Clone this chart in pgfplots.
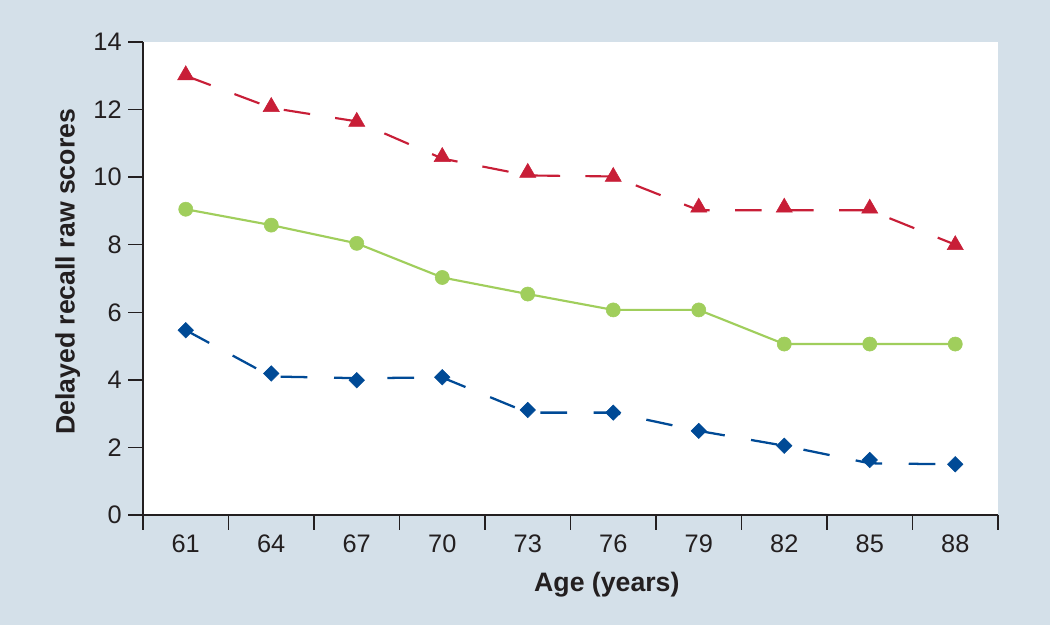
\documentclass[border=0pt]{standalone}
\usepackage{pgfplots}
\pgfplotsset{compat=1.18}
\usepackage{fontspec}
\setmainfont{Liberation Sans}
\definecolor{bgc}{RGB}{212,224,233}
\definecolor{txt}{RGB}{35,31,32}
\definecolor{cred}{RGB}{200,30,55}
\definecolor{cgreen}{RGB}{160,206,92}
\definecolor{cblue}{RGB}{0,74,150}
\begin{document}
\begin{tikzpicture}
\fill[bgc] (0,0) rectangle (787.5pt,468.75pt);
\begin{axis}[
  at={(107.25pt,82.5pt)}, anchor=south west,
  scale only axis, width=641.25pt, height=354.75pt,
  xmin=-0.5, xmax=9.5, ymin=0, ymax=14,
  axis x line*=bottom, axis y line*=left,
  axis line style={-, line width=1.1pt, color=txt},
  axis background/.style={fill=white},
  xtick={-0.5,0.5,...,9.5}, xticklabels={},
  extra x ticks={0,1,2,3,4,5,6,7,8,9},
  extra x tick labels={61,64,67,70,73,76,79,82,85,88},
  extra x tick style={tick style={draw=none}},
  ytick={0,2,...,14},
  tick align=outside,
  major tick length=11pt,
  tick style={line width=1.1pt, color=txt},
  /pgf/number format/assume math mode=true,
  ticklabel style={font=\fontsize{19}{22}\selectfont, color=txt},
  yticklabel style={xshift=-1.5pt},
  xlabel={Age (years)},
  ylabel={Delayed recall raw scores},
  xlabel style={at={(rel axis cs:0.5425,-0.162)}, anchor=base, font=\bfseries\fontsize{20}{23}\selectfont, color=txt},
  ylabel style={at={(rel axis cs:-0.0800,0.514)}, rotate=0, anchor=base, font=\bfseries\fontsize{20}{23}\selectfont, color=txt},
  clip=false,
]
% red series
\addplot[cred, line width=1.6pt, dash pattern=on 20pt off 19pt] coordinates {
 (0,13.0) (1,12.05) (2,11.65) (3,10.55) (4,10.05) (5,10.02) (6,9.02) (7,9.02) (8,9.02) (9,8.0)};
\addplot[only marks, mark=triangle*, mark size=7pt, color=cred] coordinates {
 (0,13.02) (1,12.08) (2,11.64) (3,10.6) (4,10.13) (5,10.01) (6,9.1) (7,9.1) (8,9.07) (9,7.99)};
% green series
\addplot[cgreen, line width=1.6pt] coordinates {
 (0,9.05) (1,8.58) (2,8.04) (3,7.03) (4,6.54) (5,6.07) (6,6.07) (7,5.06) (8,5.06) (9,5.06)};
\addplot[only marks, mark=*, mark size=5.3pt, color=cgreen] coordinates {
 (0,9.05) (1,8.58) (2,8.04) (3,7.03) (4,6.54) (5,6.07) (6,6.07) (7,5.06) (8,5.06) (9,5.06)};
% blue series
\addplot[cblue, line width=1.7pt, dash pattern=on 20pt off 20pt] coordinates {
 (0,5.47) (1,4.1) (2,4.05) (3,4.07) (4,3.03) (5,3.03) (6,2.49) (7,2.05) (8,1.53) (9,1.5)};
\addplot[only marks, mark=square*, mark size=4.1pt, mark options={rotate=45}, color=cblue] coordinates {
 (0,5.47) (1,4.19) (2,3.99) (3,4.08) (4,3.11) (5,3.03) (6,2.49) (7,2.05) (8,1.63) (9,1.5)};
\end{axis}
\end{tikzpicture}
\end{document}
